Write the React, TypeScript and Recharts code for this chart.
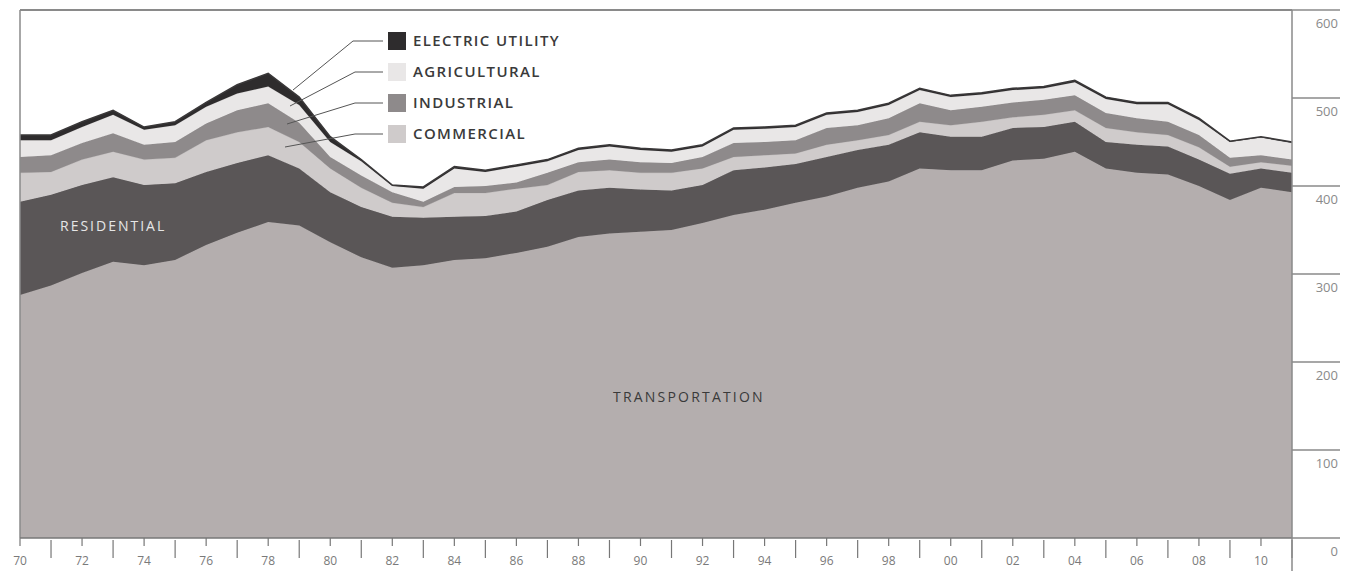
import { Area, AreaChart, ReferenceLine, XAxis, YAxis } from "recharts";

const years = [
  1970, 1971, 1972, 1973, 1974, 1975, 1976, 1977, 1978, 1979, 1980, 1981, 1982, 1983,
  1984, 1985, 1986, 1987, 1988, 1989, 1990, 1991, 1992, 1993, 1994, 1995, 1996, 1997,
  1998, 1999, 2000, 2001, 2002, 2003, 2004, 2005, 2006, 2007, 2008, 2009, 2010, 2011,
];

const transportation = [
  276, 287, 301, 314, 310, 316, 333, 347, 359, 355, 336, 319, 307, 310,
  316, 318, 324, 331, 342, 346, 348, 350, 358, 367, 373, 381, 388, 398,
  405, 420, 418, 418, 429, 431, 439, 420, 415, 413, 400, 384, 398, 393,
];
const residential = [
  106, 103, 100, 96, 91, 87, 83, 79, 76, 65, 57, 57, 58, 54,
  49, 48, 47, 53, 53, 52, 48, 45, 43, 51, 48, 44, 45, 43,
  42, 41, 38, 38, 37, 36, 34, 30, 32, 32, 30, 30, 22, 22,
];
const commercial = [
  33, 26, 29, 29, 29, 29, 36, 35, 32, 30, 27, 22, 16, 12,
  27, 26, 26, 17, 21, 20, 19, 20, 19, 15, 14, 12, 14, 11,
  11, 12, 13, 17, 12, 14, 13, 16, 14, 13, 14, 8, 7, 8,
];
const industrial = [
  18, 19, 19, 21, 17, 18, 19, 25, 27, 22, 13, 14, 12, 6,
  7, 8, 7, 14, 11, 12, 12, 11, 13, 16, 15, 15, 19, 17,
  19, 21, 17, 17, 17, 17, 17, 17, 16, 15, 14, 10, 8, 7,
];
const agricultural = [
  19, 17, 18, 21, 17, 19, 19, 19, 19, 20, 17, 16, 7, 15,
  21, 16, 18, 13, 14, 15, 14, 13, 12, 15, 15, 15, 15, 15,
  15, 15, 15, 14, 14, 13, 15, 16, 16, 20, 17, 18, 20, 19,
];
const electricUtility = [
  6, 6, 6, 5, 3, 4, 5, 10, 15, 9, 6, 2, 1, 2,
  2, 2, 2, 2, 2, 2, 2, 2, 2, 2, 2, 2, 2, 2,
  2, 2, 2, 2, 2, 2, 2, 2, 2, 2, 2, 1, 1, 1,
];

const yTicks = [0, 100, 200, 300, 400, 500, 600];

const legendItems = [
  { name: "ELECTRIC UTILITY", color: "#2e2c2d" },
  { name: "AGRICULTURAL", color: "#e9e7e7" },
  { name: "INDUSTRIAL", color: "#8e8a8b" },
  { name: "COMMERCIAL", color: "#cfcbcb" },
];

const data = years.map((year, i) => ({
  year,
  transportation: transportation[i],
  residential: residential[i],
  commercial: commercial[i],
  industrial: industrial[i],
  agricultural: agricultural[i],
  electricUtility: electricUtility[i],
}));

const font = "'Open Sans', 'DejaVu Sans', sans-serif";

function YearTick(props: any) {
  const { x, y, payload } = props;
  const yr = payload.value as number;
  if (yr % 2 === 1) {
    return <line x1={x} x2={x} y1={y + 2} y2={y + 20} stroke="#777" strokeWidth={1.2} />;
  }
  return (
    <g>
      <line x1={x} x2={x} y1={y} y2={y + 8} stroke="#777" strokeWidth={1.2} />
      <text
        x={x}
        y={y + 27}
        textAnchor="middle"
        fontSize={12}
        fontFamily={font}
        fill="#7a7a7a"
      >
        {String(yr % 100).padStart(2, "0")}
      </text>
    </g>
  );
}

function ValueTick(props: any) {
  const { x, y, payload } = props;
  return (
    <g>
      <line x1={x} x2={x + 48} y1={y} y2={y} stroke="#8a8a8a" strokeWidth={1.5} />
      {payload.value === 0 && (
        <line x1={x} x2={x} y1={y} y2={y + 33} stroke="#8a8a8a" strokeWidth={1.5} />
      )}
      <text
        x={x + 46}
        y={y + 18}
        textAnchor="end"
        fontSize={13}
        fontFamily={font}
        fill="#8a8a8a"
      >
        {payload.value}
      </text>
    </g>
  );
}

const leaders = [
  [[383, 41], [353, 41], [293, 90]],
  [[383, 72], [355, 72], [290, 106]],
  [[383, 103], [355, 103], [287, 124]],
  [[383, 134], [355, 134], [285, 147]],
];

export default function App() {
  return (
    <div style={{ position: "absolute", left: 0, top: 0, width: 1355, height: 571, background: "#fff" }}>
      <AreaChart
        width={1355}
        height={571}
        data={data}
        margin={{ top: 10, right: 0, bottom: 0, left: 20 }}
      >
        <XAxis
          dataKey="year"
          type="number"
          domain={[1970, 2011]}
          ticks={years}
          interval={0}
          height={33}
          tickSize={0}
          tickMargin={0}
          tickLine={false}
          tick={<YearTick />}
          stroke="#777"
          strokeWidth={1.5}
        />
        <YAxis
          orientation="right"
          domain={[0, 600]}
          ticks={yTicks}
          width={63}
          tickSize={0}
          tickMargin={0}
          tickLine={false}
          tick={<ValueTick />}
          stroke="#8a8a8a"
          strokeWidth={1.5}
        />
        <Area type="linear" dataKey="transportation" stackId="1" fill="#b4aeae" stroke="#b4aeae" fillOpacity={1} isAnimationActive={false} />
        <Area type="linear" dataKey="residential" stackId="1" fill="#5a5657" stroke="#5a5657" fillOpacity={1} isAnimationActive={false} />
        <Area type="linear" dataKey="commercial" stackId="1" fill="#cfcbcb" stroke="#c4c0c0" fillOpacity={1} isAnimationActive={false} />
        <Area type="linear" dataKey="industrial" stackId="1" fill="#8e8a8b" stroke="#8e8a8b" fillOpacity={1} isAnimationActive={false} />
        <Area type="linear" dataKey="agricultural" stackId="1" fill="#e9e7e7" stroke="#dcdada" fillOpacity={1} isAnimationActive={false} />
        <Area type="linear" dataKey="electricUtility" stackId="1" fill="#2e2c2d" stroke="#3a3839" strokeWidth={1.5} fillOpacity={1} isAnimationActive={false} />
        <ReferenceLine y={600} stroke="#8a8a8a" strokeWidth={2} />
        <ReferenceLine x={1970} stroke="#8a8a8a" strokeWidth={1.5} />
      </AreaChart>
      <svg
        width={1355}
        height={571}
        style={{ position: "absolute", left: 0, top: 0, pointerEvents: "none" }}
      >
        {leaders.map((pts, i) => (
          <polyline
            key={i}
            points={pts.map((p) => p.join(",")).join(" ")}
            fill="none"
            stroke="#555"
            strokeWidth={1}
          />
        ))}
        {legendItems.map((item, i) => (
          <g key={item.name}>
            <rect x={388} y={32 + i * 31} width={18} height={18} fill={item.color} />
            <text
              x={413}
              y={46 + i * 31}
              fontSize={15}
              fontWeight={600}
              fontFamily={font}
              fill="#3a3a3a"
              letterSpacing={1.4}
            >
              {item.name}
            </text>
          </g>
        ))}
        <text x={60} y={231} fontSize={14} fontFamily={font} fill="#e6e6e6" letterSpacing={2}>
          RESIDENTIAL
        </text>
        <text x={613} y={402} fontSize={14} fontFamily={font} fill="#3a3a3a" letterSpacing={2.2}>
          TRANSPORTATION
        </text>
      </svg>
    </div>
  );
}
